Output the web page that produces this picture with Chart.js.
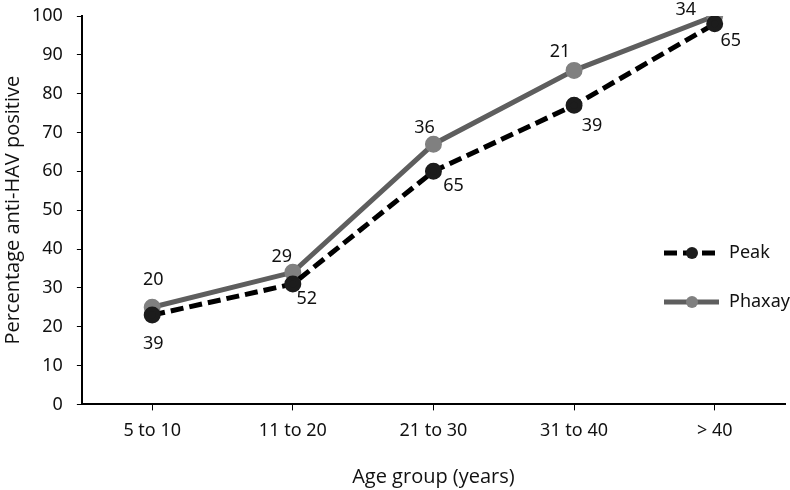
<!DOCTYPE html>
<html>
<head>
<meta charset="utf-8">
<script src="https://cdn.jsdelivr.net/npm/chart.js@4.4.1/dist/chart.umd.min.js"></script>
<style>
    html, body { margin: 0; padding: 0; background: #fff; }
    #chart { display: block; }
</style>
</head>
<body>
<canvas id="chart" width="790" height="490"></canvas>
<script>
// Chart values
const ageGroups = ['5 to 10', '11 to 20', '21 to 30', '31 to 40', '> 40'];
const peakValues = [23, 31, 60, 77, 98];
const phaxayValues = [25, 34, 67, 86, 100];
// Sample sizes printed beside each point
const peakCounts = [39, 52, 65, 39, 65];
const phaxayCounts = [20, 29, 36, 21, 34];
const yTicks = [0, 10, 20, 30, 40, 50, 60, 70, 80, 90, 100];

const TICK_FONT = '"Noto Sans", "Open Sans", sans-serif';
const TITLE_FONT = '"Open Sans", "Noto Sans", sans-serif';

// Label offsets (px) from each point, so the numbers sit like in the figure
const peakLabelOffsets = [[1, 29], [14, 15], [20, 15], [18, 21], [16, 17]];
const phaxayLabelOffsets = [[1, -27], [-11, -15], [-9, -16], [-14, -19], [-29, -6]];

const pointLabels = {
    id: 'pointLabels',
    afterDatasetsDraw(chart) {
        const ctx = chart.ctx;
        ctx.save();
        ctx.font = '18px ' + TICK_FONT;
        ctx.fillStyle = '#111';
        ctx.textAlign = 'center';
        ctx.textBaseline = 'middle';
        const sets = [
            { idx: 0, counts: peakCounts, offs: peakLabelOffsets },
            { idx: 1, counts: phaxayCounts, offs: phaxayLabelOffsets }
        ];
        sets.forEach(s => {
            chart.getDatasetMeta(s.idx).data.forEach((pt, i) => {
                ctx.fillText(String(s.counts[i]), pt.x + s.offs[i][0], pt.y + s.offs[i][1]);
            });
        });
        ctx.restore();
    }
};

// Legend drawn inside the plot area, Excel style (line sample with marker in the middle)
const insideLegend = {
    id: 'insideLegend',
    afterDraw(chart) {
        const ctx = chart.ctx;
        const items = [
            { ds: chart.data.datasets[0], y: 253 },
            { ds: chart.data.datasets[1], y: 302 }
        ];
        ctx.save();
        items.forEach(it => {
            ctx.beginPath();
            ctx.setLineDash(it.ds.borderDash || []);
            ctx.strokeStyle = it.ds.borderColor;
            ctx.lineWidth = it.ds.borderWidth;
            ctx.moveTo(664, it.y);
            ctx.lineTo(719, it.y);
            ctx.stroke();
            ctx.setLineDash([]);
            ctx.beginPath();
            ctx.fillStyle = it.ds.pointBackgroundColor;
            ctx.arc(692, it.y, 6, 0, Math.PI * 2);
            ctx.fill();
            ctx.fillStyle = '#111';
            ctx.font = '18px ' + TICK_FONT;
            ctx.textAlign = 'left';
            ctx.textBaseline = 'middle';
            ctx.fillText(it.ds.label, 729, it.y);
        });
        ctx.restore();
    }
};

new Chart(document.getElementById('chart').getContext('2d'), {
    type: 'line',
    data: {
        labels: ageGroups,
        datasets: [
            {
                label: 'Peak',
                data: peakValues,
                borderColor: '#000',
                borderWidth: 5,
                borderDash: [13, 6],
                pointBackgroundColor: '#1c1c1c',
                pointBorderColor: '#1c1c1c',
                pointRadius: 6,
                tension: 0
            },
            {
                label: 'Phaxay',
                data: phaxayValues,
                borderColor: '#5e5e5e',
                borderWidth: 5,
                pointBackgroundColor: '#808080',
                pointBorderColor: '#808080',
                pointRadius: 6,
                tension: 0
            }
        ]
    },
    options: {
        responsive: false,
        animation: false,
        layout: { autoPadding: false, padding: { top: 0, right: 5, left: 1, bottom: 1 } },
        plugins: {
            legend: { display: false },
            tooltip: { enabled: false }
        },
        scales: {
            x: {
                offset: true,
                // the scale keeps spare room on its right by default; the figure's axis runs to the edge
                afterFit(scale) { scale.paddingRight = 0; scale.paddingLeft = 0; },
                grid: { drawOnChartArea: false, offset: false, tickLength: 6, color: '#000' },
                border: { color: '#000', width: 2 },
                ticks: { color: '#111', font: { family: TICK_FONT, size: 18 }, padding: 10 },
                title: {
                    display: true,
                    text: 'Age group (years)',
                    color: '#111',
                    font: { family: TITLE_FONT, size: 20 },
                    padding: { top: 13, bottom: 0 }
                }
            },
            y: {
                min: 0,
                max: 100,
                afterBuildTicks(axis) { axis.ticks = yTicks.map(v => ({ value: v })); },
                afterFit(scale) { scale.paddingTop = 16; },
                grid: { drawOnChartArea: false, tickLength: 5, color: '#000' },
                border: { color: '#000', width: 2 },
                ticks: { color: '#111', font: { family: TICK_FONT, size: 18 }, padding: 14 },
                title: {
                    display: true,
                    text: 'Percentage anti-HAV positive',
                    color: '#111',
                    font: { family: TITLE_FONT, size: 20 },
                    padding: { top: 0, bottom: -7 }
                }
            }
        }
    },
    plugins: [pointLabels, insideLegend]
});
</script>
</body>
</html>
